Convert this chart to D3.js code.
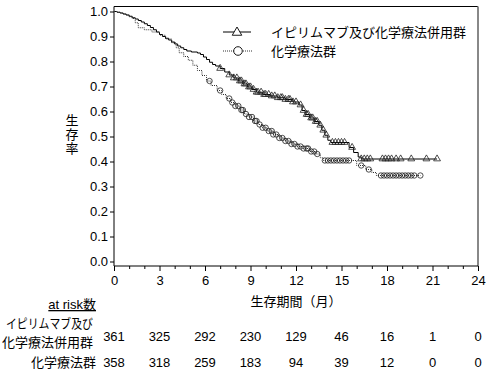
<!DOCTYPE html>
<html>
<head>
<meta charset="utf-8">
<script src="https://cdn.jsdelivr.net/npm/d3@7"></script>
<style>
  body { margin: 0; background: #fff; }
  text { font-family: "Liberation Sans", "Noto Sans CJK JP", sans-serif; fill: #000; }
</style>
</head>
<body>
<div id="plot"></div>
<script>
const w = 486;
const h = 375;

const groups = ["イピリムマブ及び化学療法併用群", "化学療法群"];

// Kaplan-Meier steps [month, survival], last pair = end of follow-up
const comboSteps = [
  [0, 1.0], [0.2, 0.997], [0.4, 0.994], [0.6, 0.99], [0.8, 0.986], [1.0, 0.981],
  [1.2, 0.975], [1.4, 0.97], [1.6, 0.964], [1.8, 0.958], [2.0, 0.951], [2.2, 0.944],
  [2.4, 0.936], [2.6, 0.927], [2.8, 0.918], [3.0, 0.908], [3.2, 0.9], [3.4, 0.893],
  [3.6, 0.886], [3.8, 0.878], [4.0, 0.87], [4.2, 0.862], [4.4, 0.855], [4.6, 0.848],
  [4.8, 0.842], [5.1, 0.838], [5.5, 0.834], [5.7, 0.828], [5.9, 0.818], [6.1, 0.808],
  [6.3, 0.797], [6.5, 0.788], [6.7, 0.782], [7.0, 0.772], [7.3, 0.758], [7.6, 0.746],
  [7.9, 0.734], [8.2, 0.722], [8.5, 0.71], [8.8, 0.698], [9.1, 0.688], [9.4, 0.677],
  [9.8, 0.668], [10.3, 0.662], [10.8, 0.655], [11.3, 0.648], [11.8, 0.638], [12.2, 0.626],
  [12.4, 0.604], [12.6, 0.588], [12.9, 0.574], [13.2, 0.56], [13.5, 0.545], [13.7, 0.525],
  [13.9, 0.505], [14.1, 0.485], [14.3, 0.476], [15.5, 0.456], [15.8, 0.436], [16.1, 0.418],
  [16.3, 0.41], [21.3, 0.41]
];
const chemoSteps = [
  [0, 1.0], [0.2, 0.997], [0.4, 0.994], [0.6, 0.99], [0.8, 0.986], [1.0, 0.979],
  [1.2, 0.972], [1.4, 0.955], [1.6, 0.935], [2.0, 0.927], [2.5, 0.918], [3.0, 0.905],
  [3.4, 0.89], [3.8, 0.875], [4.1, 0.855], [4.3, 0.835], [4.6, 0.82], [4.9, 0.805],
  [5.2, 0.785], [5.5, 0.764], [5.8, 0.744], [6.1, 0.722], [6.4, 0.704], [6.8, 0.684],
  [7.1, 0.668], [7.4, 0.652], [7.7, 0.636], [8.0, 0.622], [8.3, 0.606], [8.6, 0.59],
  [8.9, 0.578], [9.2, 0.562], [9.5, 0.548], [9.8, 0.535], [10.1, 0.522], [10.5, 0.508],
  [10.9, 0.494], [11.3, 0.482], [11.7, 0.47], [12.1, 0.46], [12.5, 0.452], [12.9, 0.44],
  [13.3, 0.43], [13.6, 0.415], [13.8, 0.404], [16.0, 0.384], [16.6, 0.368], [17.0, 0.356],
  [17.3, 0.344], [20.2, 0.344]
];

// censored times (months)
const comboCensor = [
  7.0, 7.6, 7.9, 8.1, 8.3, 8.4, 8.6, 8.7, 8.9, 9.0, 9.2, 9.4, 9.5, 9.7, 9.9, 10.0,
  10.2, 10.4, 10.6, 10.8, 11.0, 11.1, 11.3, 11.5, 11.6, 11.8, 12.0, 12.3, 12.5, 12.7,
  12.8, 13.0, 13.1, 13.3, 13.4, 13.6, 13.8, 14.0, 14.4, 14.6, 14.8, 15.0, 15.2, 15.7,
  16.3, 16.5, 16.7, 16.9, 17.7, 17.9, 18.1, 18.3, 18.6, 18.9, 19.6, 20.6, 21.3
];
const chemoCensor = [
  6.3, 7.0, 7.6, 7.8, 8.0, 8.2, 8.4, 8.5, 8.7, 8.9, 9.1, 9.3, 9.4, 9.6, 9.8, 10.0,
  10.2, 10.4, 10.5, 10.7, 10.9, 11.1, 11.3, 11.5, 11.7, 11.9, 12.1, 12.3, 12.5, 12.7,
  12.8, 13.0, 13.2, 13.4, 13.9, 14.1, 14.3, 14.5, 14.7, 14.9, 15.1, 15.3, 15.5, 16.3,
  16.8, 17.6, 17.8, 18.0, 18.2, 18.4, 18.6, 18.8, 19.0, 19.2, 19.4, 19.6, 19.8, 20.2
];

const xTicks = [0, 3, 6, 9, 12, 15, 18, 21, 24];
const yTicks = [0, 0.1, 0.2, 0.3, 0.4, 0.5, 0.6, 0.7, 0.8, 0.9, 1.0];
const comboRisk = [361, 325, 292, 230, 129, 46, 16, 1, 0];
const chemoRisk = [358, 318, 259, 183, 94, 39, 12, 0, 0];

const svg = d3.select("div#plot")
  .append("svg")
  .attr("width", w)
  .attr("height", h);

const xScale = d3.scaleLinear().domain([0, 24]).range([114, 478]);
const yScale = d3.scaleLinear().domain([0, 1]).range([261.5, 11.5]);
const axisY = 266;
const frameTop = 6.5;

// frame
svg.append("line")
  .attr("x1", 114).attr("x2", 478).attr("y1", frameTop).attr("y2", frameTop)
  .attr("stroke", "#000").attr("stroke-width", 1);
svg.append("line")
  .attr("x1", 478).attr("x2", 478).attr("y1", frameTop).attr("y2", axisY)
  .attr("stroke", "#888").attr("stroke-width", 2);

// axes
const xAxis = d3.axisBottom(xScale).tickValues(xTicks).tickSize(5).tickSizeOuter(0).tickPadding(5);
const xMinor = d3.axisBottom(xScale)
  .tickValues(d3.range(0, 25).filter(d => d % 3 !== 0))
  .tickSize(3).tickSizeOuter(0).tickFormat("");
const yAxis = d3.axisLeft(yScale).tickValues(yTicks).tickSize(4).tickSizeOuter(0).tickPadding(2)
  .tickFormat(d3.format(".1f"));

svg.append("g").attr("transform", `translate(0, ${axisY})`).call(xMinor)
  .call(g => g.select(".domain").remove());
const gx = svg.append("g").attr("transform", `translate(0, ${axisY})`).call(xAxis);
gx.select(".domain").remove();
const gy = svg.append("g").attr("transform", "translate(114, 0)").call(yAxis);
gy.select(".domain").remove();

svg.selectAll(".tick text").attr("font-size", "13px")
  .attr("font-family", '"Liberation Sans", sans-serif');
svg.selectAll(".tick line").attr("stroke", "#000");

svg.append("line")
  .attr("x1", 114).attr("x2", 478).attr("y1", axisY).attr("y2", axisY)
  .attr("stroke", "#000");
svg.append("line")
  .attr("x1", 114).attr("x2", 114).attr("y1", frameTop).attr("y2", axisY)
  .attr("stroke", "#000");

// axis titles
const yTitle = svg.append("text")
  .attr("font-size", "13px")
  .attr("text-anchor", "middle");
["生", "存", "率"].forEach((c, i) => {
  yTitle.append("tspan").attr("x", 72).attr("y", 125 + i * 14).text(c);
});

svg.append("text")
  .attr("x", xScale(12))
  .attr("y", 306)
  .attr("text-anchor", "middle")
  .attr("font-size", "13px")
  .text("生存期間（月）");

// curves
const line = d3.line()
  .x(d => xScale(d[0]))
  .y(d => yScale(d[1]))
  .curve(d3.curveStepAfter);

svg.append("path")
  .datum(comboSteps)
  .attr("d", line)
  .attr("fill", "none")
  .attr("stroke", "#000")
  .attr("stroke-width", 1);

svg.append("path")
  .datum(chemoSteps)
  .attr("d", line)
  .attr("fill", "none")
  .attr("stroke", "#333")
  .attr("stroke-width", 1)
  .attr("stroke-dasharray", "1,1");

function survAt(steps, t) {
  let s = steps[0][1];
  for (const p of steps) { if (p[0] <= t) s = p[1]; }
  return s;
}

const tri = (cx, cy, r) =>
  `M${cx},${cy - r}L${cx + r * 0.95},${cy + r * 0.65}L${cx - r * 0.95},${cy + r * 0.65}Z`;

svg.append("g").selectAll("path")
  .data(comboCensor)
  .enter()
  .append("path")
  .attr("d", d => tri(xScale(d), yScale(survAt(comboSteps, d)) - 0.5, 3.6))
  .attr("fill", "none")
  .attr("stroke", "#222")
  .attr("stroke-width", 0.8);

svg.append("g").selectAll("circle")
  .data(chemoCensor)
  .enter()
  .append("circle")
  .attr("cx", d => xScale(d))
  .attr("cy", d => yScale(survAt(chemoSteps, d)))
  .attr("r", 2.7)
  .attr("fill", "none")
  .attr("stroke", "#222")
  .attr("stroke-width", 0.8);

// legend
const legend = svg.append("g");
legend.append("line").attr("x1", 223).attr("x2", 251).attr("y1", 32).attr("y2", 32)
  .attr("stroke", "#000");
legend.append("path").attr("d", tri(237, 32, 5))
  .attr("fill", "#fff").attr("stroke", "#000").attr("stroke-width", 0.9);
legend.append("line").attr("x1", 223).attr("x2", 253).attr("y1", 51).attr("y2", 51)
  .attr("stroke", "#333").attr("stroke-dasharray", "1,1");
legend.append("circle").attr("cx", 238).attr("cy", 51).attr("r", 4.3)
  .attr("fill", "#fff").attr("stroke", "#000").attr("stroke-width", 0.9);
legend.selectAll("text")
  .data(groups)
  .enter()
  .append("text")
  .attr("x", 271)
  .attr("y", (d, i) => 37 + i * 19)
  .attr("font-size", "13px")
  .text(d => d);

// at risk table
svg.append("text")
  .attr("x", 96).attr("y", 309)
  .attr("text-anchor", "end")
  .attr("font-size", "13px")
  .attr("text-decoration", "underline")
  .text("at risk数");

svg.append("text")
  .attr("x", 93).attr("y", 328)
  .attr("text-anchor", "end")
  .attr("font-size", "13px")
  .attr("textLength", 87)
  .attr("lengthAdjust", "spacingAndGlyphs")
  .text("イピリムマブ及び");
svg.append("text")
  .attr("x", 93).attr("y", 347)
  .attr("text-anchor", "end")
  .attr("font-size", "13px")
  .text("化学療法併用群");
svg.append("text")
  .attr("x", 96).attr("y", 367)
  .attr("text-anchor", "end")
  .attr("font-size", "13px")
  .text("化学療法群");

[[comboRisk, 341], [chemoRisk, 367]].forEach(([vals, y]) => {
  svg.append("g").selectAll("text")
    .data(vals)
    .enter()
    .append("text")
    .attr("x", (d, i) => xScale(xTicks[i]))
    .attr("y", y)
    .attr("text-anchor", "middle")
    .attr("font-size", "13px")
    .text(d => d);
});
</script>
</body>
</html>
